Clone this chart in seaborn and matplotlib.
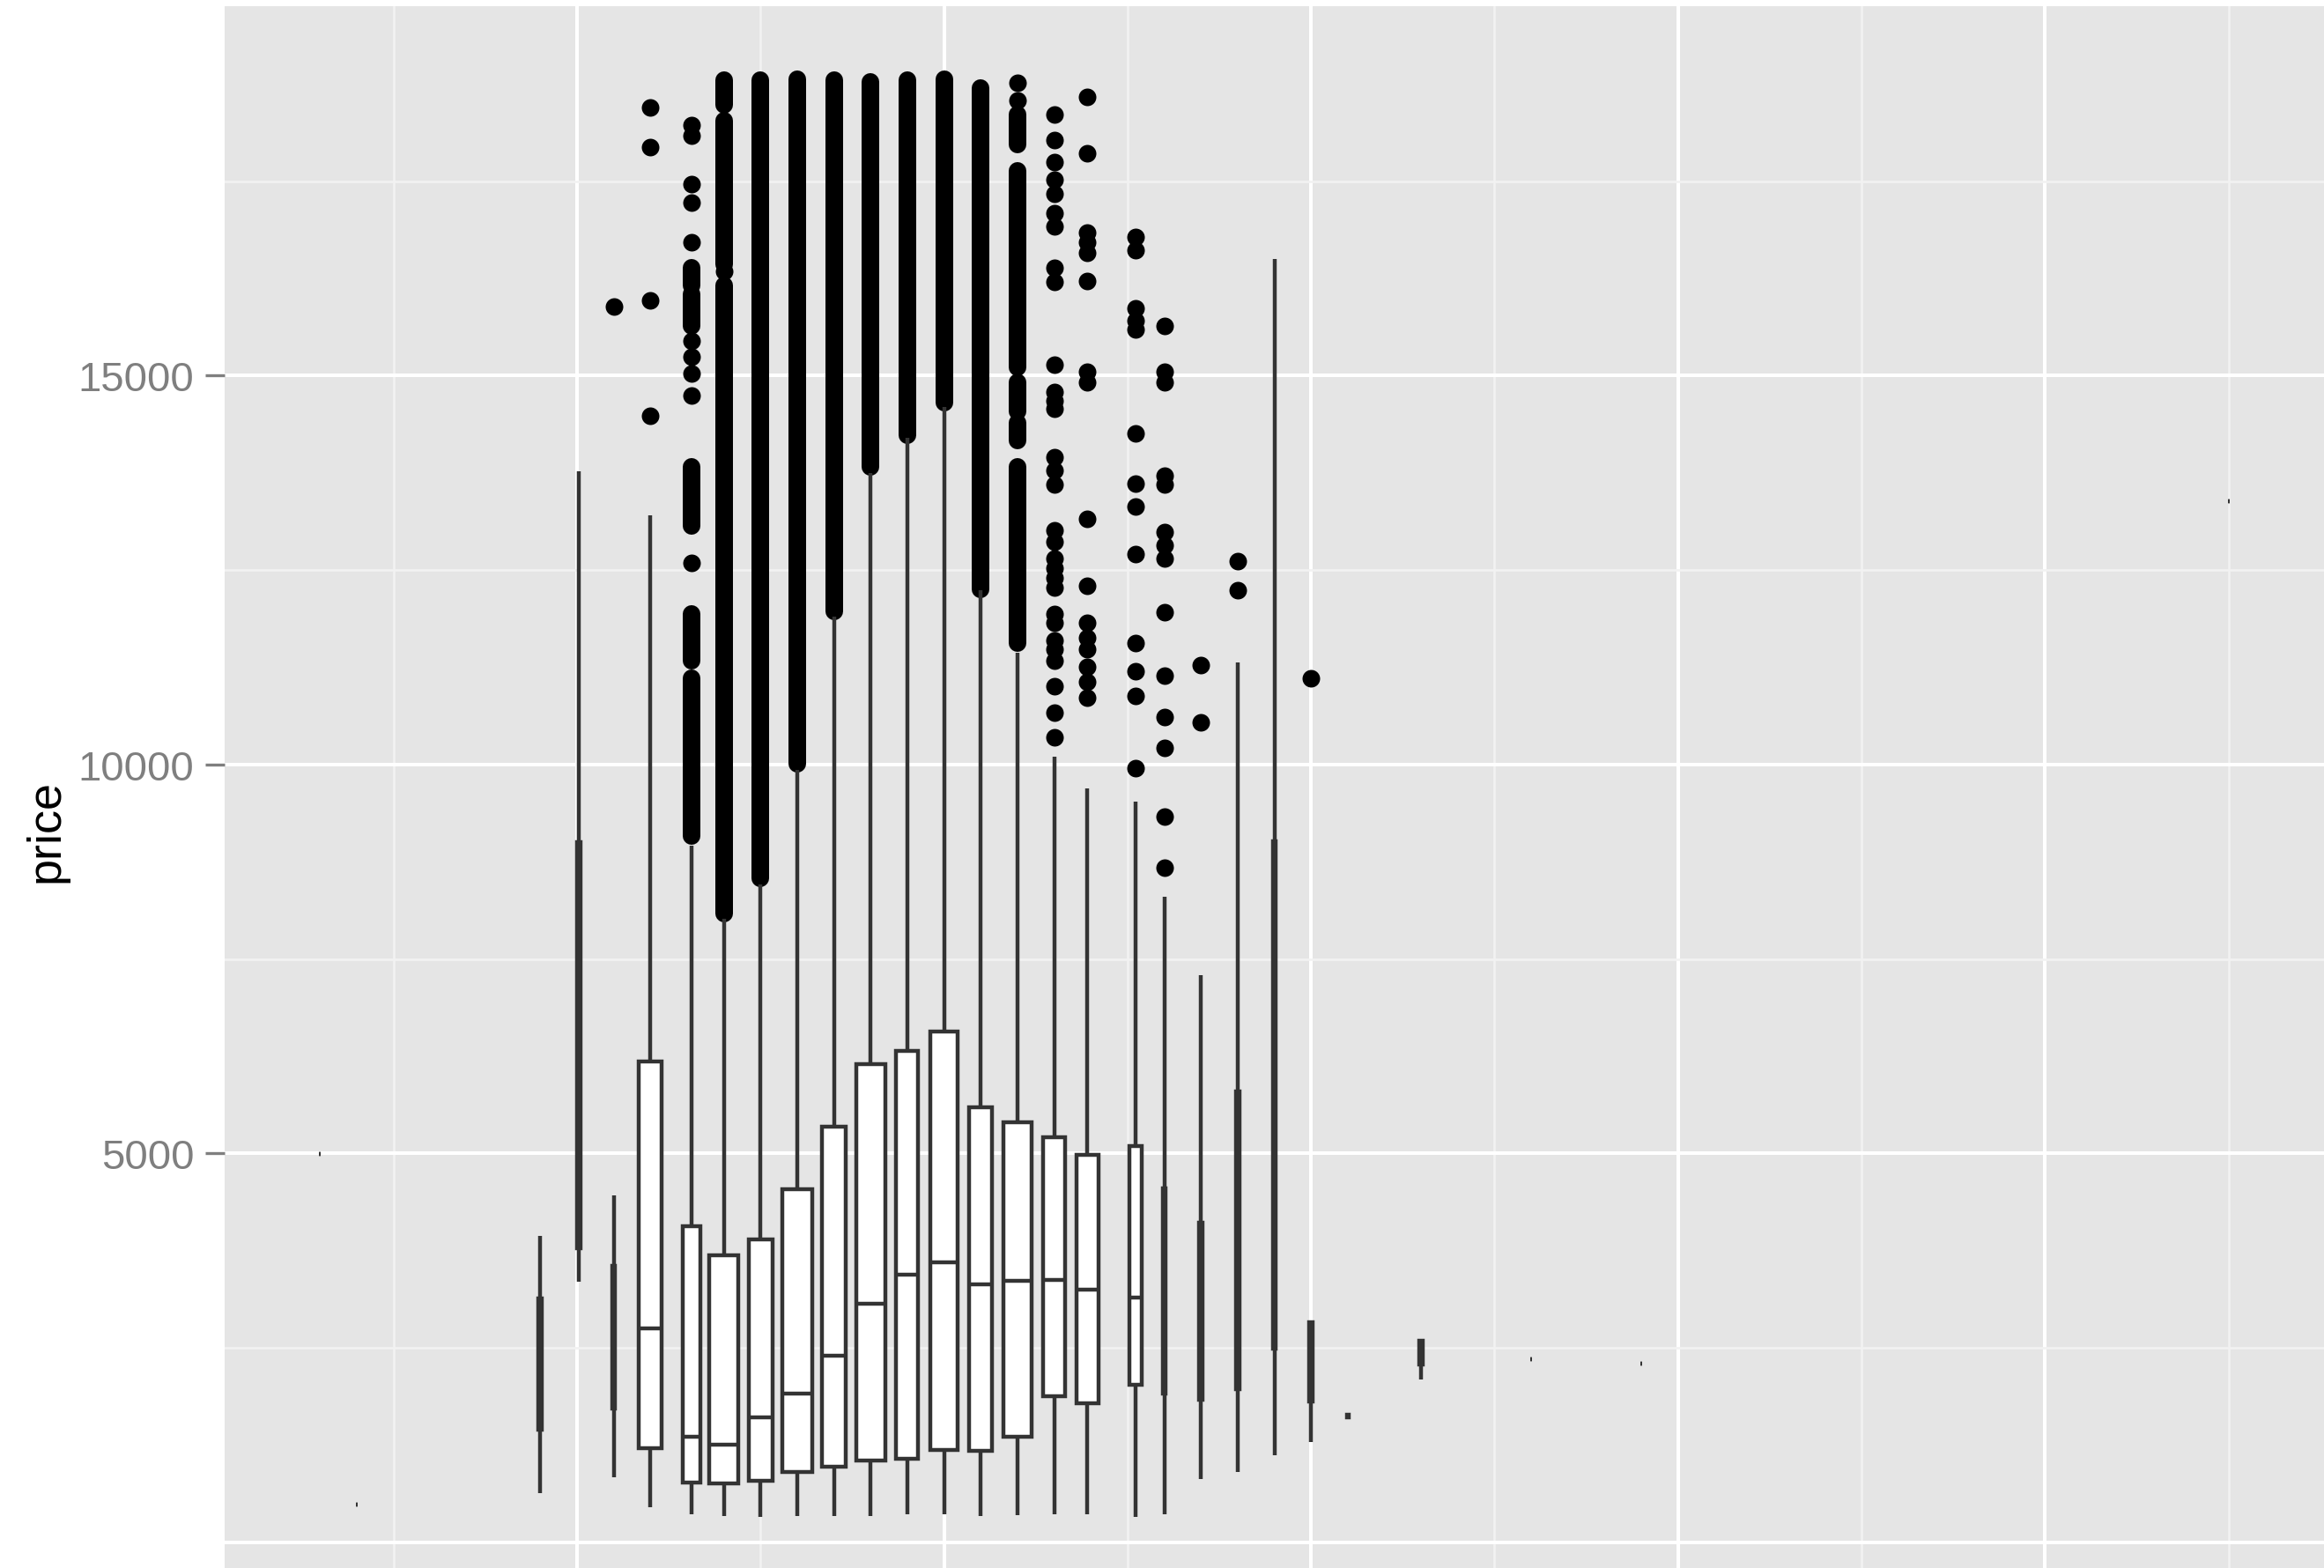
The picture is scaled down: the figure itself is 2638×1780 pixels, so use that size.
import matplotlib
matplotlib.use("Agg")
import matplotlib.pyplot as plt
import seaborn as sns
import pandas as pd

# one box per table group; x is the centre of the group's table range
table_pos = [43.0, 44.0, 49.0, 50.05, 51.0, 52.0, 53.12, 54.0, 55.0, 56.0,
             57.0, 58.0, 59.0, 60.0, 61.0, 62.0, 63.0, 63.9, 65.22, 66.0,
             67.0, 68.0, 69.0, 70.0, 71.0, 73.0, 76.0, 79.0, 95.0]
box_width = [0.05, 0.05, 0.09, 0.09, 0.09, 0.63, 0.47, 0.81, 0.65, 0.81,
             0.63, 0.80, 0.60, 0.75, 0.63, 0.78, 0.60, 0.60, 0.32, 0.09,
             0.09, 0.09, 0.09, 0.09, 0.05, 0.09, 0.05, 0.05, 0.05]
whisk_lo = [4997, 489, 632, 3354, 840, 455, 360, 342, 323, 342,
            342, 342, 360, 360, 342, 349, 360, 360, 323, 360,
            813, 908, 1123, 1293, 1590, 2097, 2350, 2300, 13387]
q1 = [4997, 489, 1444, 3777, 1719, 1210, 768, 757, 795, 908,
      972, 1048, 1078, 1191, 1172, 1361, 1882, 1784, 2022, 1908,
      1833, 1965, 2494, 1814, 1610, 2285, 2350, 2300, 13387]
med = [4997, 489, 2300, 6000, 2600, 2750, 1353, 1255, 1606, 1908,
       2395, 3071, 3445, 3596, 3316, 3361, 3369, 3248, 3143, 3000,
       3000, 3500, 4500, 2300, 1625, 2450, 2350, 2300, 13387]
q3 = [4997, 489, 3131, 9001, 3550, 6182, 4068, 3694, 3898, 4544,
      5343, 6144, 6315, 6563, 5591, 5400, 5210, 4985, 5098, 4551,
      4109, 5800, 9008, 2834, 1640, 2588, 2350, 2300, 13387]
whisk_hi = [4997, 489, 3939, 13764, 4464, 13200, 8960, 8020, 8455, 9927,
            11900, 13743, 14195, 14590, 12235, 11440, 10098, 9687, 9517, 8300,
            7287, 11308, 16500, 2850, 1660, 2600, 2350, 2300, 13387]

# separate outlier points per group
out_51 = [15883]
out_52 = [18443, 17933, 15962, 14479]
out_53 = [18217, 18081, 17458, 17220, 16710, 15442, 15238, 15023, 14740, 12589]
out_54 = [16336]
out_62 = [18761, 18534]
out_63 = [18353, 18025, 17742, 17515, 17334, 17085, 16915, 16382, 16200, 15136,
          14785, 14672, 14570, 13947, 13778, 13597, 13008, 12861, 12646, 12521,
          12396, 12272, 11932, 11819, 11593, 11479, 11332, 11004, 10664, 10347]
out_64 = [18579, 17855, 16835, 16710, 16574, 16212, 15046, 14910, 13155, 12295,
          11819, 11627, 11479, 11253, 11061, 10857]
out_65 = [16778, 16608, 15860, 15702, 15589, 14252, 13607, 13313, 12702, 11559,
          11196, 10879, 9950]
out_66 = [15634, 15046, 14910, 13710, 13597, 12985, 12815, 12646, 11955, 11140,
          10607, 10211, 9327, 8670]
out_67 = [11272, 10546]
out_68 = [12610, 12235]
out_70 = [11103]

# stretches where outliers overlap into a solid column
run_x = [53.12, 53.12, 53.12, 53.12, 53.12, 54.0, 54.0, 54.0, 55.0, 56.0,
         57.0, 58.0, 59.0, 60.0, 61.0, 62.0, 62.0, 62.0, 62.0, 62.0]
run_lo = [16155, 15634, 13064, 11333, 9080, 18478, 16427, 8080, 8533, 10006,
          11966, 13823, 14232, 14648, 12252, 17968, 15101, 14535, 14162, 11560]
run_hi = [16382, 16042, 13823, 11933, 11105, 18802, 18274, 16155, 18800, 18809,
          18794, 18771, 18794, 18809, 18695, 18353, 17628, 14909, 14388, 13823]

sns.set_theme(style="darkgrid", rc={"axes.facecolor": "#E5E5E5", "figure.facecolor": "white"})
plt.rcParams["font.family"] = ["Liberation Sans", "DejaVu Sans"]

fig = plt.figure(figsize=(26.38, 17.81), dpi=100)
ax = fig.add_axes([255 / 2638, -0.0133, 1 - 255 / 2638, 1.0088])

# outliers
groups = [(51.0, out_51), (52.0, out_52), (53.12, out_53), (54.0, out_54),
          (62.0, out_62), (63.0, out_63), (63.9, out_64), (65.22, out_65),
          (66.0, out_66), (67.0, out_67), (68.0, out_68), (70.0, out_70)]
pts = pd.DataFrame({
    "table": [pos for pos, vals in groups for _ in vals],
    "price": [v for _, vals in groups for v in vals],
})
sns.scatterplot(data=pts, x="table", y="price", color="black", s=207,
                linewidth=0, zorder=1.5, ax=ax)
ax.vlines(run_x, run_lo, run_hi, colors="black", linewidth=14.4,
          capstyle="round", zorder=1.5)

# boxes, one call per group because widths differ
for i, pos in enumerate(table_pos):
    vals = [whisk_lo[i], q1[i], med[i], q3[i], whisk_hi[i]]
    sns.boxplot(x=[pos] * 5, y=vals, orient="x", native_scale=True,
                width=box_width[i], whis=(0, 100), color="white",
                linecolor="#333333", linewidth=3.2, fliersize=0,
                showcaps=False, ax=ax)

ax.set_xlim(40.4, 97.6)
ax.set_ylim(-599, 19748)
ax.set_xticks([50, 60, 70, 80, 90])
ax.set_xticks([45, 55, 65, 75, 85, 95], minor=True)
ax.set_yticks([0, 5000, 10000, 15000])
ax.set_yticklabels(["", "5000", "10000", "15000"])
ax.set_yticks([2500, 7500, 12500, 17500], minor=True)
ax.tick_params(axis="x", which="both", length=0, labelbottom=False)
ax.tick_params(axis="y", which="major", left=True, length=16, width=2.4,
               color="#7F7F7F", labelcolor="#7F7F7F", labelsize=34, pad=9)
ax.tick_params(axis="y", which="minor", length=0)
ax.yaxis.get_major_ticks()[0].tick1line.set_visible(False)

ax.grid(which="major", color="white", linewidth=2.9)
ax.grid(which="minor", color="#F2F2F2", linewidth=1.9)
ax.set_axisbelow(True)
for s in ax.spines.values():
    s.set_visible(False)

ax.set_xlabel("")
ax.set_ylabel("price", fontsize=39, color="black")
ax.yaxis.set_label_coords(-0.0743, 0.4795)

fig.savefig("out.png", dpi=100)
